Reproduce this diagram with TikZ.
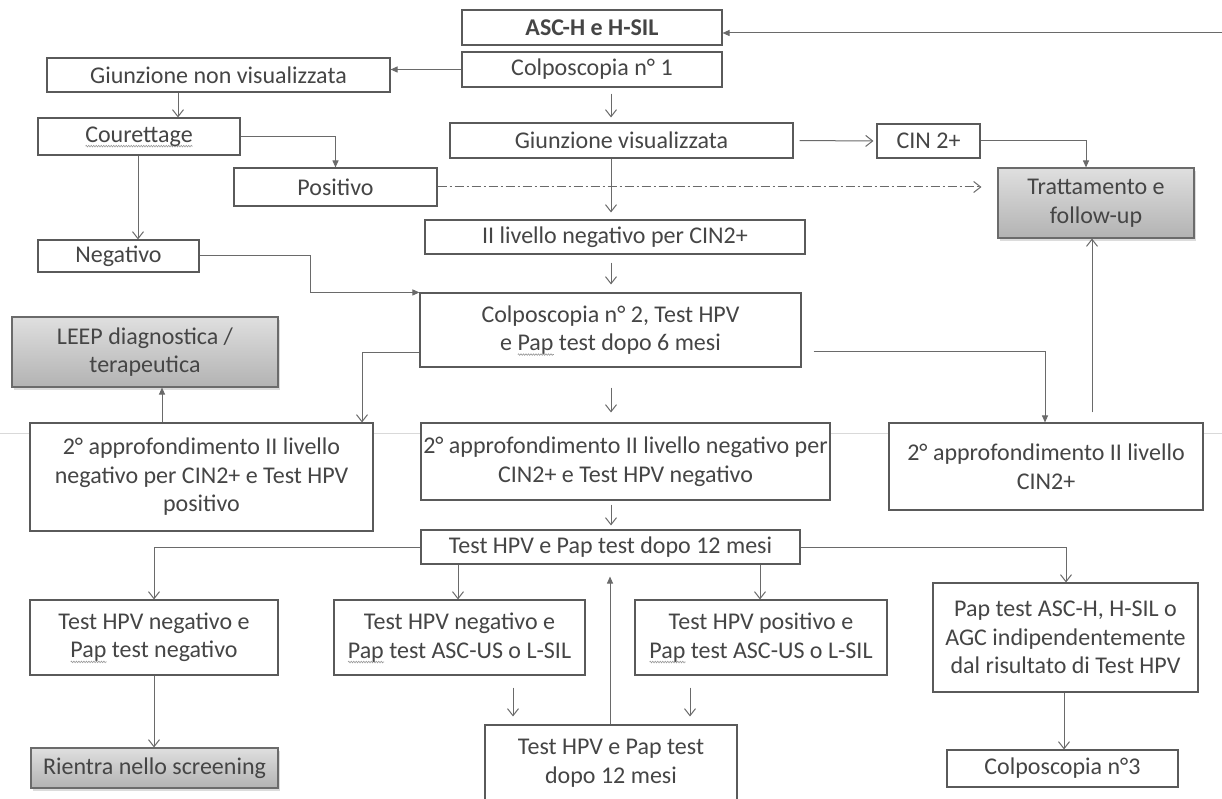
\documentclass[tikz,border=0pt]{standalone}
\usepackage{fontspec}
\setmainfont{Carlito}
\usetikzlibrary{arrows.meta,shadows,decorations.pathmorphing}
\definecolor{txt}{HTML}{454545}
\definecolor{bord}{HTML}{5A5A5A}
\definecolor{conn}{HTML}{6A6A6A}
\newsavebox{\squigbox}
\newcommand\squig[1]{\sbox{\squigbox}{#1}\rlap{\smash{\raisebox{-5pt}{\tikz[x=1pt,y=1pt]\draw[draw=gray!80, line width=0.6pt, decorate, decoration={zigzag, amplitude=0.8pt, segment length=2.5pt}] (0,0) -- (\wd\squigbox,0);}}}\usebox{\squigbox}}
\tikzset{
  box/.style={draw=bord, line width=1.1pt, text=txt, align=center, inner sep=2pt,
    font=\fontsize{24}{28.5}\selectfont, fill=white},
  graybox/.style={box, draw=bord!90, top color=gray!25, bottom color=gray!60,
    drop shadow={shadow xshift=1.5pt, shadow yshift=-3pt, fill=gray!45, opacity=0.6}},
  arr/.style={draw=conn, line width=1pt, -{Straight Barb[length=7pt,width=11pt]}},
  arf/.style={draw=conn, line width=1pt, -{Triangle[length=7pt,width=6pt]}},
  sz/.style 2 args={minimum width=#1pt, minimum height=#2pt},
}
\begin{document}
\begin{tikzpicture}[x=1pt,y=-1pt]
\useasboundingbox (0,0) rectangle (1222,799);
\fill[white] (0,0) rectangle (1222,799);
% faint scan line
\draw[gray!30, line width=0.8pt] (0,433) -- (1222,433);

\node[box, sz={260}{35}, font=\fontsize{24}{28.5}\selectfont\bfseries] (asc) at (592,27.5) {ASC-H e H-SIL};
\node[box, sz={260}{35}] (col1) at (592,69.5) {Colposcopia n° 1};
\node[box, sz={343}{34}] (gnv) at (218.5,75) {Giunzione non visualizzata};
\node[box, sz={202}{37}] (cour) at (139,136.5) {\squig{Courettage}};
\node[box, sz={343}{35}] (gv) at (621.5,140.5) {Giunzione visualizzata};
\node[box, sz={103}{34}] (cin) at (928.5,141) {CIN 2+};
\node[box, sz={203}{38}] (pos) at (335.5,187) {Positivo};
\node[graybox, sz={196}{70}] (tratt) at (1096,203) {Trattamento e\\follow-up};
\node[box, sz={380}{34}] (ii) at (615,237) {II livello negativo per CIN2+};
\node[box, sz={161}{32}] (neg) at (118.5,256) {Negativo};
\node[box, sz={381}{74}] (col2) at (610.5,330) {Colposcopia n° 2, Test HPV\\e \squig{Pap} test dopo 6 mesi};
\node[graybox, sz={266}{70}] (leep) at (145,352) {LEEP diagnostica /\\terapeutica};
\node[box, sz={343}{108}] (a2l) at (201.5,477) {2° approfondimento II livello\\negativo per CIN2+ e Test HPV\\positivo};
\node[box, sz={409}{77}, inner sep=1pt] (a2m) at (625.5,461.5) {2° approfondimento II livello negativo per\\CIN2+ e Test HPV negativo};
\node[box, sz={314}{87}] (a2r) at (1046,466.5) {2° approfondimento II livello\\CIN2+};
\node[box, sz={379}{34}] (t12) at (610.5,547) {Test HPV e Pap test dopo 12 mesi};
\node[box, sz={248}{75}] (r1) at (154,637.5) {Test HPV negativo e\\\squig{Pap} test negativo};
\node[box, sz={251}{75}] (r2) at (459.5,637.5) {Test HPV negativo e\\\squig{Pap} test ASC-US o L-SIL};
\node[box, sz={252}{75}] (r3) at (761,637.5) {Test HPV positivo e\\\squig{Pap} test ASC-US o L-SIL};
\node[box, sz={265}{109}] (r4) at (1065.5,637.5) {Pap test ASC-H, H-SIL o\\AGC indipendentemente\\dal risultato di Test HPV};
\node[graybox, sz={247}{40}] (rient) at (154.5,768) {Rientra nello screening};
\node[box, sz={231}{37}] (col3) at (1062.5,768.5) {Colposcopia n°3};
\node[box, sz={252}{76}] (bot) at (611,763) {Test HPV e Pap test\\dopo 12 mesi};

\coordinate (rin) at (1222,33);
% connectors
\draw[arf] (rin) -- (asc.east |- rin);
\draw[arf] (col1.west) -- (col1.west -| gnv.east);
\draw[arr] (178,0 |- gnv.south) -- (178,0 |- cour.north);
\draw[arf] (cour.east) -| (pos.north);
\draw[arr] (138,0 |- cour.south) -- (138,0 |- neg.north);
\draw[arr, shorten <=6pt, shorten >=5pt] (611,0 |- col1.south) -- (611,0 |- gv.north);
\draw[arr, shorten <=6pt, shorten >=3pt] (gv.east) -- (cin.west);
\draw[arf] (cin.east) -| (1086,0 |- tratt.north);
\draw[arr, dash pattern=on 9pt off 3pt on 2pt off 3pt, shorten >=16pt] (pos.east) -- (pos.east -| tratt.west);
\draw[arr, shorten >=7pt] (611,0 |- gv.south) -- (611,0 |- ii.north);
\draw[arr, shorten <=8pt, shorten >=8pt] (611,0 |- ii.south) -- (611,0 |- col2.north);
\draw[arf] (neg.east) -- (310,0 |- neg.east) -- (310,0 |- col2.north) -- (col2.north west);
\draw[arr] (col2.west |- 0,352) -| (362,0 |- a2l.north);
\draw[arf] (162,0 |- a2l.north) -- (162,0 |- leep.south);
\draw[arr, shorten <=20pt, shorten >=10pt] (611,0 |- col2.south) -- (611,0 |- a2m.north);
\draw[arf] ([xshift=12pt]col2.east |- 0,351) -| (1045,0 |- a2r.north);
\draw[arr, shorten <=10pt] (1092,0 |- a2r.north) -- (1092,0 |- tratt.south);
\draw[arr, shorten <=4pt, shorten >=4pt] (611,0 |- a2m.south) -- (611,0 |- t12.north);
\draw[arr] (t12.west) -| (154,0 |- r1.north);
\draw[arr] (t12.east) -| (1066,0 |- r4.north);
\draw[arr] (458,0 |- t12.south) -- (458,0 |- r2.north);
\draw[arr] (760,0 |- t12.south) -- (760,0 |- r3.north);
\draw[arr] (154,0 |- r1.south) -- (154,0 |- rient.north);
\draw[arr] (1064,0 |- r4.south) -- (1064,0 |- col3.north);
\draw[arr, shorten <=12pt, shorten >=8pt] (513,0 |- r2.south) -- (513,0 |- bot.north);
\draw[arr, shorten <=12pt, shorten >=8pt] (690,0 |- r3.south) -- (690,0 |- bot.north);
\draw[arf, shorten >=12pt] (610,0 |- bot.north) -- (610,0 |- t12.south);
\end{tikzpicture}
\end{document}
